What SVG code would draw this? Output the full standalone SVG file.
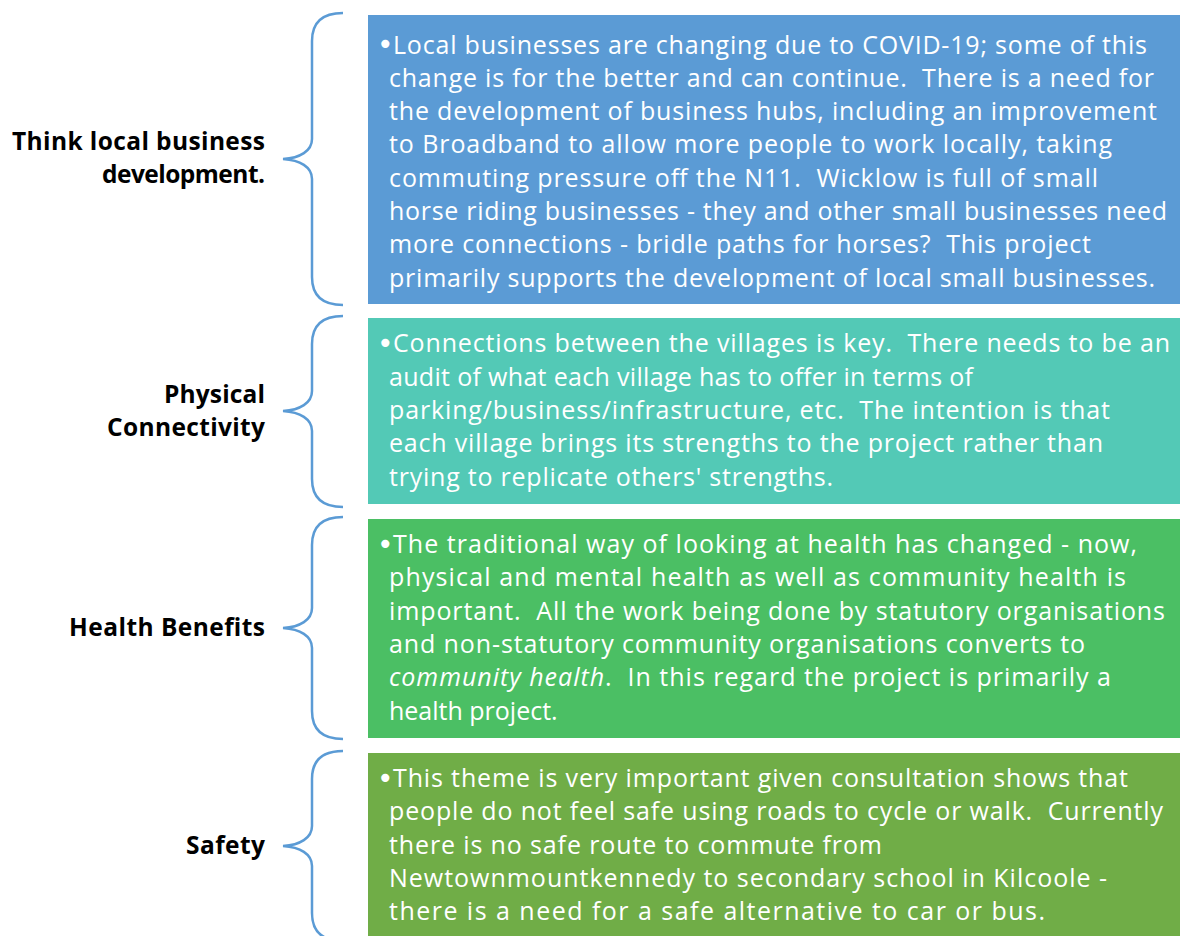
<svg xmlns="http://www.w3.org/2000/svg" width="1180" height="936" viewBox="0 0 1180 936">
<style>
.lbl{font-family:"Open Sans","Liberation Sans",sans-serif;font-weight:bold;font-size:24.5px;fill:#000;text-anchor:end}
.txt{font-family:"Open Sans","Liberation Sans",sans-serif;font-size:25px;fill:#fff;white-space:pre}
.bul{font-family:"DejaVu Sans",sans-serif;font-size:28px;fill:#fff}
.br{fill:none;stroke:#5B9BD5;stroke-width:2.5}
</style>
<rect width="1180" height="936" fill="#fff"/>
<g id="connectors">
<path class="br" d="M343,13 C324,13 312,21 312,41 L312,139 C312,151 300,158 283,159 C300,160 312,167 312,179 L312,277 C312,297 324,305 343,305"/>
<path class="br" d="M343,316 C324,316 312,324 312,344 L312,391 C312,403 300,410 283,411 C300,412 312,419 312,431 L312,479 C312,499 324,507 343,507"/>
<path class="br" d="M343,517 C324,517 312,525 312,545 L312,608 C312,620 300,627 283,628 C300,629 312,636 312,648 L312,711 C312,731 324,739 343,739"/>
<path class="br" d="M343,751 C324,751 312,759 312,779 L312,826 C312,838 300,845 283,846 C300,847 312,854 312,866 L312,913 C312,933 324,941 343,941"/>
</g>
<g id="node1">
<text class="lbl" x="265" y="150" textLength="253">Think local business</text>
<text class="lbl" x="265" y="183" textLength="163">development.</text>
<rect x="368" y="15" width="812" height="289" fill="#5B9BD5"/>
<text class="bul" x="377" y="54">•</text>
<text class="txt" x="393" y="53.5" textLength="754">Local businesses are changing due to COVID-19; some of this</text>
<text class="txt" x="389" y="86.8" textLength="765">change is for the better and can continue.  There is a need for</text>
<text class="txt" x="389" y="120" textLength="768">the development of business hubs, including an improvement</text>
<text class="txt" x="389" y="153.3" textLength="723">to Broadband to allow more people to work locally, taking</text>
<text class="txt" x="389" y="186.6" textLength="709">commuting pressure off the N11.  Wicklow is full of small</text>
<text class="txt" x="389" y="220" textLength="778">horse riding businesses - they and other small businesses need</text>
<text class="txt" x="389" y="253.3" textLength="702">more connections - bridle paths for horses?  This project</text>
<text class="txt" x="389" y="286.6" textLength="766">primarily supports the development of local small businesses.</text>
</g>
<g id="node2">
<text class="lbl" x="265" y="403" textLength="101">Physical</text>
<text class="lbl" x="265" y="436" textLength="158">Connectivity</text>
<rect x="368" y="318" width="812" height="186" fill="#53C9B6"/>
<text class="bul" x="377" y="353">•</text>
<text class="txt" x="393" y="352" textLength="777">Connections between the villages is key.  There needs to be an</text>
<text class="txt" x="389" y="385.5" textLength="584">audit of what each village has to offer in terms of</text>
<text class="txt" x="389" y="419" textLength="721">parking/business/infrastructure, etc.  The intention is that</text>
<text class="txt" x="389" y="452.3" textLength="714">each village brings its strengths to the project rather than</text>
<text class="txt" x="389" y="485.6" textLength="444">trying to replicate others' strengths.</text>
</g>
<g id="node3">
<text class="lbl" x="265" y="636" textLength="196">Health Benefits</text>
<rect x="368" y="519" width="812" height="219" fill="#4BBF64"/>
<text class="bul" x="377" y="554">•</text>
<text class="txt" x="393" y="553" textLength="744">The traditional way of looking at health has changed - now,</text>
<text class="txt" x="389" y="586.3" textLength="737">physical and mental health as well as community health is</text>
<text class="txt" x="389" y="619.6" textLength="776">important.  All the work being done by statutory organisations</text>
<text class="txt" x="389" y="653" textLength="696">and non-statutory community organisations converts to</text>
<text class="txt" x="389" y="686.3" textLength="722"><tspan font-style="italic">community health</tspan>.  In this regard the project is primarily a</text>
<text class="txt" x="389" y="719.6">health project.</text>
</g>
<g id="node4">
<text class="lbl" x="265" y="854" textLength="79">Safety</text>
<rect x="368" y="753" width="812" height="183" fill="#70AD47"/>
<text class="bul" x="377" y="788">•</text>
<text class="txt" x="393" y="787" textLength="735">This theme is very important given consultation shows that</text>
<text class="txt" x="389" y="820.3" textLength="774">people do not feel safe using roads to cycle or walk.  Currently</text>
<text class="txt" x="389" y="853.6" textLength="493">there is no safe route to commute from</text>
<text class="txt" x="389" y="887" textLength="718">Newtownmountkennedy to secondary school in Kilcoole -</text>
<text class="txt" x="389" y="920.3" textLength="656">there is a need for a safe alternative to car or bus.</text>
</g>
</svg>
